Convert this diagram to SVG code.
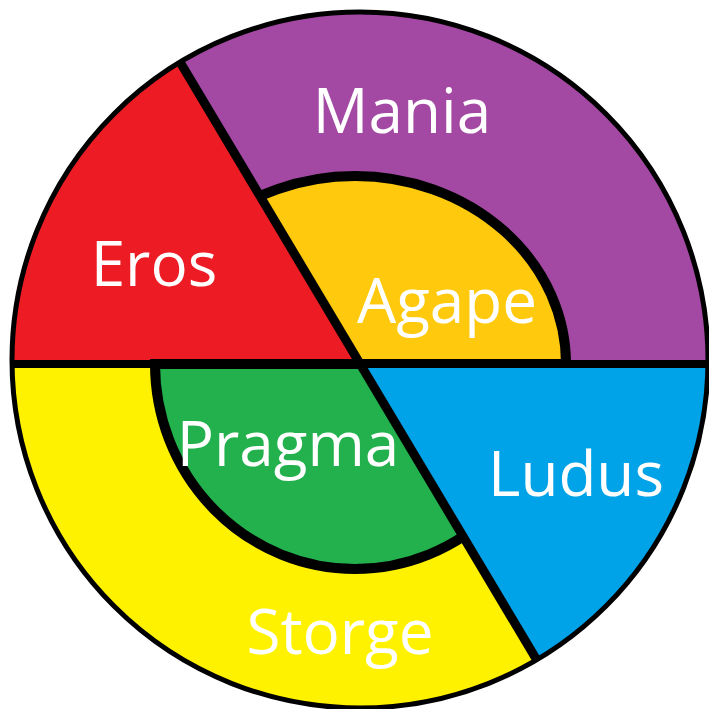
<svg xmlns="http://www.w3.org/2000/svg" width="709" height="709" viewBox="0 0 709 709">
  <defs>
    <clipPath id="disk">
      <circle cx="360" cy="360" r="348"/>
    </clipPath>
    <style>
      .lbl { font-family: "Open Sans", "Liberation Sans", sans-serif; font-size: 62px; fill: #ffffff; text-anchor: middle; }
      .div { stroke: #000000; fill: none; }
    </style>
  </defs>
  <rect x="0" y="0" width="709" height="709" fill="#ffffff"/>
  <g clip-path="url(#disk)">
    <g id="mania">
      <rect x="0" y="0" width="709" height="364" fill="#A349A4"/>
    </g>
    <g id="agape">
      <path d="M 144 364 A 211 188 0 0 1 566 364 Z" fill="#FFC90E" stroke="#000" stroke-width="10"/>
    </g>
    <g id="eros">
      <polygon points="360,364 143,0 0,0 0,364" fill="#ED1C24"/>
    </g>
    <g id="storge">
      <rect x="0" y="364" width="709" height="345" fill="#FFF200"/>
    </g>
    <g id="pragma">
      <path d="M 155 364 A 200 205 0 0 0 555 364 Z" fill="#22B14C" stroke="#000" stroke-width="10"/>
    </g>
    <g id="ludus">
      <polygon points="360,364 709,364 709,709 566,709" fill="#00A2E8"/>
    </g>
    <g id="dividers">
      <line class="div" x1="0" y1="364" x2="709" y2="364" stroke-width="8"/>
      <line class="div" x1="143" y1="0" x2="566" y2="709" stroke-width="9"/>
    </g>
  </g>
  <circle cx="360" cy="360" r="348" fill="none" stroke="#000" stroke-width="5"/>
  <g id="labels">
    <text class="lbl" x="402" y="133">Mania</text>
    <text class="lbl" x="154" y="286">Eros</text>
    <text class="lbl" x="447" y="323">Agape</text>
    <text class="lbl" x="288" y="466">Pragma</text>
    <text class="lbl" x="576" y="496">Ludus</text>
    <text class="lbl" x="340" y="654">Storge</text>
  </g>
</svg>
